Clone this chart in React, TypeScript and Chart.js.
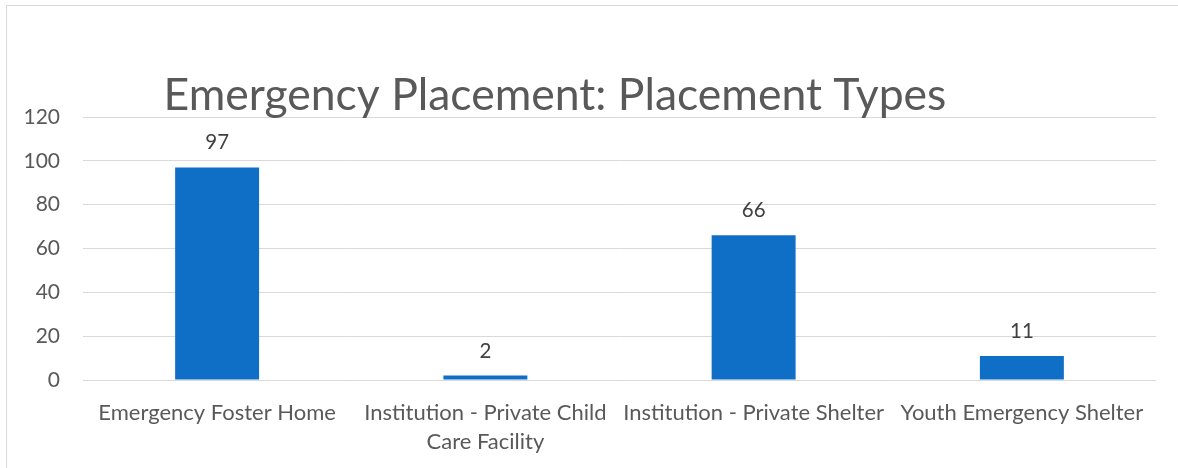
import React, { useEffect, useRef } from "react";
import { Chart, registerables } from "chart.js";

Chart.register(...registerables);

const chartTitle = "Emergency Placement: Placement Types";
const categories: (string | string[])[] = [
  "Emergency Foster Home",
  ["Institution - Private Child", "Care Facility"],
  "Institution - Private Shelter",
  "Youth Emergency Shelter",
];
const placements = [97, 2, 66, 11];
const yMin = 0;
const yMax = 120;
const yStep = 20;

const FONT = "Lato, 'Open Sans', sans-serif";
const TEXT = "#595959";

const titlePlugin = {
  id: "customTitle",
  afterDraw(chart: any) {
    const ctx = chart.ctx;
    ctx.save();
    ctx.font = `44.5px ${FONT}`;
    ctx.fillStyle = TEXT;
    ctx.textAlign = "center";
    ctx.textBaseline = "alphabetic";
    ctx.fillText(chartTitle, 555, 110);
    ctx.restore();
  },
};

const dataLabelPlugin = {
  id: "barValues",
  afterDatasetsDraw(chart: any) {
    const ctx = chart.ctx;
    const meta = chart.getDatasetMeta(0);
    const data = chart.data.datasets[0].data;
    ctx.save();
    ctx.font = `20.5px ${FONT}`;
    ctx.fillStyle = "#404040";
    ctx.textAlign = "center";
    ctx.textBaseline = "alphabetic";
    meta.data.forEach((bar: any, i: number) => {
      ctx.fillText(String(data[i]), bar.x, bar.y - 18);
    });
    ctx.restore();
  },
};

export default function App() {
  const canvasRef = useRef<HTMLCanvasElement | null>(null);

  useEffect(() => {
    if (!canvasRef.current) return;
    const chart = new Chart(canvasRef.current, {
      type: "bar",
      data: {
        labels: categories,
        datasets: [
          {
            data: placements,
            backgroundColor: "#0F6FC6",
            borderWidth: 0,
            categoryPercentage: 1,
            barPercentage: 0.313,
          },
        ],
      },
      options: {
        responsive: false,
        animation: false,
        layout: { padding: { top: 117, right: 22, left: 0, bottom: 0 } },
        plugins: {
          legend: { display: false },
          title: { display: false },
          tooltip: { enabled: false },
        },
        scales: {
          y: {
            min: yMin,
            max: yMax,
            ticks: {
              stepSize: yStep,
              color: TEXT,
              font: { family: FONT, size: 21 },
              padding: 23,
            },
            grid: { color: "#D9D9D9", lineWidth: 1, drawTicks: false },
            border: { display: false },
            afterFit(scale: any) {
              scale.width = 83;
            },
          },
          x: {
            ticks: {
              color: TEXT,
              font: { family: FONT, size: 22, lineHeight: 1.32 },
              padding: 18,
              maxRotation: 0,
              autoSkip: false,
            },
            grid: { display: false, drawTicks: false },
            border: { display: false },
            afterFit(scale: any) {
              scale.height = 88;
            },
          },
        },
      },
      plugins: [titlePlugin, dataLabelPlugin],
    });
    return () => chart.destroy();
  }, []);

  return (
    <div
      style={{
        position: "absolute",
        left: 0,
        top: 0,
        width: 1178,
        height: 468,
        background: "#ffffff",
        overflow: "hidden",
      }}
    >
      <canvas ref={canvasRef} width={1178} height={468} style={{ display: "block" }} />
      <div
        style={{
          position: "absolute",
          left: 6,
          top: 5,
          right: -2,
          bottom: -2,
          borderLeft: "1px solid #D9D9D9",
          borderTop: "1px solid #D9D9D9",
          pointerEvents: "none",
        }}
      />
    </div>
  );
}
